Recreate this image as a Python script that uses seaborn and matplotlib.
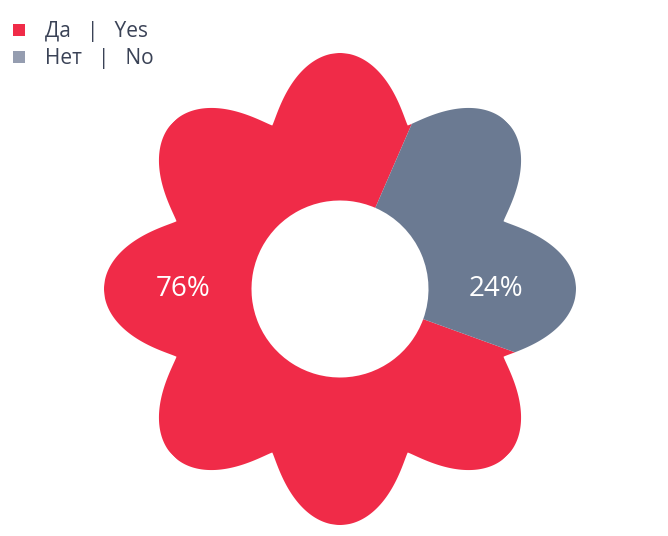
import numpy as np
import matplotlib.pyplot as plt
import seaborn as sns
from matplotlib.path import Path
from matplotlib.lines import Line2D

sns.set_theme(style="white")
plt.rcParams['font.family'] = ['Open Sans', 'DejaVu Sans']

# данные
labels = ["Да   |   Yes", "Нет   |   No"]
values = [76, 24]
colors = ["#F02B48", "#6B7A92"]
legend_colors = ["#F02B48", "#959DB0"]

fig = plt.figure(figsize=(6.68, 5.36), dpi=100)
ax = fig.add_axes([104 / 668, 11 / 536, 472 / 668, 472 / 536])

wedges, _ = ax.pie(
    values,
    colors=colors,
    startangle=66.5,
    counterclock=True,
    radius=1.0,
    wedgeprops=dict(width=0.625, linewidth=0),
)

# форма цветка (8 лепестков)
rv = 0.75
theta = np.linspace(0, 2 * np.pi, 3000)
r = rv + (1 - rv) * np.abs(np.cos(4 * theta)) ** 1.1
flower = Path(np.column_stack([r * np.cos(theta), r * np.sin(theta)]), closed=True)
for w in wedges:
    w.set_clip_on(True)
    w.set_clip_path(flower, transform=ax.transData)

# подписи
pct = [f"{v}%" for v in values]
ax.text(-0.665, 0, pct[0], color="white", fontsize=20, ha="center", va="center")
ax.text(0.66, 0, pct[1], color="white", fontsize=20, ha="center", va="center")

ax.set_xlim(-1, 1)
ax.set_ylim(-1, 1)
ax.axis("off")

handles = [Line2D([], [], marker="s", linestyle="none", markersize=9,
                  markerfacecolor=c, markeredgewidth=0) for c in legend_colors]
fig.legend(handles, labels, loc="upper left", bbox_to_anchor=(-0.003, 0.98),
           frameon=False, fontsize=15, labelcolor="#3a4256",
           handlelength=1.0, handletextpad=0.75, labelspacing=0.3,
           borderaxespad=0.2, borderpad=0.3)

plt.savefig("out.png", dpi=100)
